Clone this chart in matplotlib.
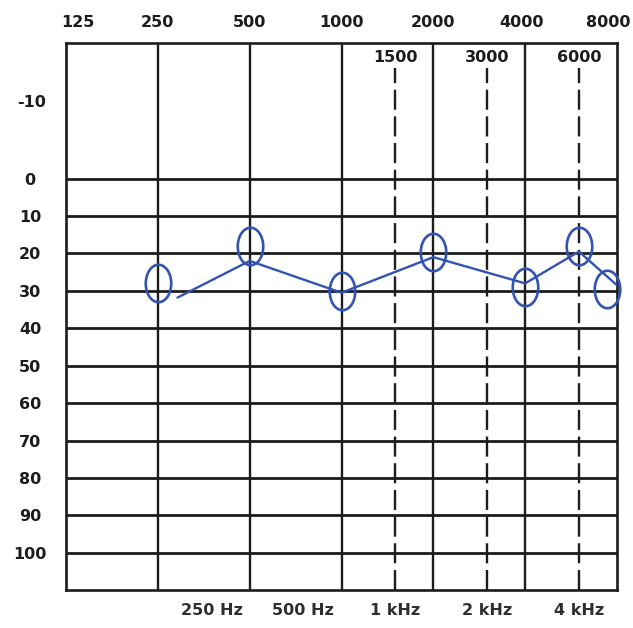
import matplotlib
matplotlib.use("Agg")
import matplotlib.pyplot as plt
from matplotlib.path import Path
from matplotlib.transforms import Affine2D, blended_transform_factory, ScaledTranslation

# Frequency grid (Hz)
octave_freqs = [125, 250, 500, 1000, 2000, 4000, 8000]
octave_labels = ["125", "250", "500", "1000", "2000", "4000", "8000"]
mid_freqs = [1500, 3000, 6000]
mid_labels = ["1500", "3000", "6000"]

# Hearing level grid (dB HL)
level_ticks = [0, 10, 20, 30, 40, 50, 60, 70, 80, 90, 100]
level_labels = ["0", "10", "20", "30", "40", "50", "60", "70", "80", "90", "100"]
header_label = "-10"

# Band captions under the chart
band_label_freqs = [375, 750, 1500, 3000, 6000]
band_labels = ["250 Hz", "500 Hz", "1 kHz", "2 kHz", "4 kHz"]

# Thresholds marked with circles
threshold_freqs = [250, 500, 1000, 2000, 4000, 6000, 8000]
threshold_db = [28, 18, 30, 19.5, 29, 18, 29.5]

# Hand-drawn connecting trace
trace_freqs = [290, 500, 1000, 2000, 4000, 6000, 8000]
trace_db = [31.8, 22, 30.5, 21, 28, 19.5, 28.5]

INK = "#1c1c1c"
PEN = "#3353b3"

fig = plt.figure(figsize=(6.33, 6.28), dpi=100)
fig.patch.set_facecolor("white")
ax = fig.add_axes([66 / 633, 38 / 628, 551 / 633, 547 / 628])

ax.set_xscale("log", base=2)
ax.set_xlim(octave_freqs[0], octave_freqs[-1])
ax.set_ylim(109.9, -36.2)
ax.set_xticks([])
ax.set_yticks([])
ax.minorticks_off()
for s in ax.spines.values():
    s.set_color(INK)
    s.set_linewidth(1.9)

# Horizontal level lines
for lv in level_ticks:
    ax.axhline(lv, color=INK, lw=2.0, zorder=1)

# Solid octave lines
for f in octave_freqs[1:-1]:
    ax.axvline(f, color=INK, lw=1.7, zorder=1)

# Dashed inter-octave lines
for f in mid_freqs:
    ax.axvline(f, ymin=0, ymax=0.954, color=INK, lw=1.7,
               ls=(0, (8.5, 2.8)), zorder=1)

xtop = blended_transform_factory(ax.transData, ax.transAxes)
xaxes = ax.transAxes
fs = fig.dpi_scale_trans

# Octave frequency labels above the frame
for f, lab in zip(octave_freqs, octave_labels):
    tr = xtop
    if f == octave_freqs[0]:
        tr = xtop + ScaledTranslation(12 / 100, 0, fs)
    elif f == octave_freqs[-1]:
        tr = xtop + ScaledTranslation(-9 / 100, 0, fs)
    elif f == 4000:
        tr = xtop + ScaledTranslation(-4 / 100, 0, fs)
    ax.text(f, 1.038, lab, transform=tr, ha="center", va="center",
            fontsize=11.5, fontweight="bold", color=INK, clip_on=False)

# Inter-octave labels inside the frame
for f, lab in zip(mid_freqs, mid_labels):
    ax.text(f, 0.974, lab, transform=xtop, ha="center", va="center",
            fontsize=11.5, fontweight="bold", color=INK)

# Level labels on the left
yleft = blended_transform_factory(ax.transAxes, ax.transData)
for lv, lab in zip(level_ticks, level_labels):
    ax.text(-0.065, lv + 0.4, lab, transform=yleft, ha="center", va="center",
            fontsize=11.5, fontweight="bold", color=INK, clip_on=False)
ax.text(-0.063, 0.892, header_label, transform=xaxes, ha="center", va="center",
        fontsize=11.5, fontweight="bold", color=INK, clip_on=False)

# Band captions below the frame
for f, lab in zip(band_label_freqs, band_labels):
    ax.text(f, -0.037, lab, transform=xtop, ha="center", va="center",
            fontsize=11.5, fontweight="bold", color="#2e2e2e", clip_on=False)

# Trace
ax.plot(trace_freqs, trace_db, color=PEN, lw=1.7, zorder=3,
        solid_joinstyle="round", solid_capstyle="round")

# Circles (tall ellipses)
ellipse = Path.unit_circle().transformed(Affine2D().scale(0.68, 1.0))
ax.plot(threshold_freqs[:-1], threshold_db[:-1], ls="none", marker=ellipse,
        ms=27, mfc="none", mec=PEN, mew=1.9, zorder=4, clip_on=False)
ax.plot(threshold_freqs[-1:], threshold_db[-1:], ls="none", marker=ellipse,
        ms=27, mfc="none", mec=PEN, mew=1.9, zorder=4, clip_on=False,
        transform=ax.transData + ScaledTranslation(-10 / 100, 0, fs))

fig.savefig("out.png", dpi=100, facecolor="white")
